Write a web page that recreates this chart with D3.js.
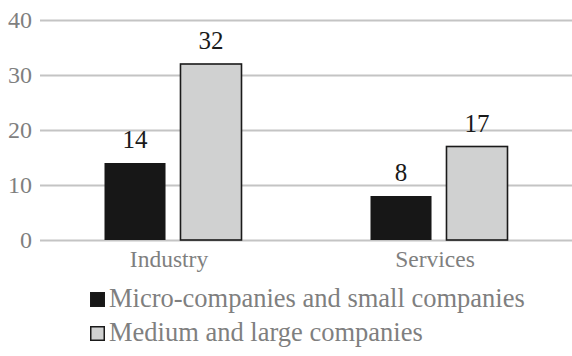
<!DOCTYPE html>
<html><head><meta charset="utf-8">
<script src="https://cdn.jsdelivr.net/npm/d3@7"></script>
<style>html,body{margin:0;padding:0;background:#fff;}svg{display:block;}</style>
</head><body>
<script>
const categories = ["Industry", "Services"];
const seriesNames = ["Micro-companies and small companies", "Medium and large companies"];
const microSmall = [14, 8];
const mediumLarge = [32, 17];
const yTickValues = [0, 10, 20, 30, 40];

const W = 572, H = 356;
const font = "'Liberation Serif','Times New Roman',serif";
const colors = ["#171717", "#d0d1d1"];
const seriesValues = [microSmall, mediumLarge];

const svg = d3.select("body").append("svg").attr("width", W).attr("height", H);

const y = d3.scaleLinear().domain([0, 40]).range([240, 20]);
const x0 = d3.scaleBand().domain(categories).range([40, 572]).padding(0);
const x1 = d3.scaleBand().domain(seriesNames).range([64.5, 201.5]).paddingInner(0.197).paddingOuter(0);

// gridlines
const yAxis = d3.axisLeft(y).tickValues(yTickValues).tickSize(-(572 - 40)).tickFormat(d3.format("d"));
const gAxis = svg.append("g").attr("transform", "translate(40,0)").call(yAxis);
gAxis.select(".domain").remove();
gAxis.selectAll(".tick line").attr("stroke", "#c4c4c4").attr("stroke-width", 1.8);
gAxis.selectAll(".tick text").attr("x", -8).attr("font-family", font).attr("font-size", 24).attr("fill", "#7f7f7f");

// bars
const groups = svg.selectAll("g.cat").data(categories).enter().append("g")
  .attr("class", "cat").attr("transform", d => `translate(${x0(d)},0)`);

seriesNames.forEach((s, si) => {
  groups.append("rect")
    .attr("x", x1(s))
    .attr("y", (d, i) => y(seriesValues[si][i]))
    .attr("width", x1.bandwidth())
    .attr("height", (d, i) => y(0) - y(seriesValues[si][i]))
    .attr("fill", colors[si])
    .attr("stroke", si === 1 ? "#1a1a1a" : "none")
    .attr("stroke-width", 1.6);
  groups.append("text")
    .attr("x", x1(s) + x1.bandwidth() / 2)
    .attr("y", (d, i) => y(seriesValues[si][i]) - 15)
    .attr("text-anchor", "middle")
    .attr("font-family", font).attr("font-size", 25).attr("fill", "#1a1a1a")
    .text((d, i) => seriesValues[si][i]);
});

// category labels
svg.selectAll("text.cat").data(categories).enter().append("text")
  .attr("class", "cat")
  .attr("x", d => x0(d) + x0.bandwidth() / 2 - 4)
  .attr("y", 267)
  .attr("text-anchor", "middle")
  .attr("font-family", font).attr("font-size", 23.5).attr("fill", "#7f7f7f")
  .text(d => d);

// legend
const leg = svg.selectAll("g.leg").data(seriesNames).enter().append("g")
  .attr("class", "leg").attr("transform", (d, i) => `translate(90,${292 + i * 34})`);
leg.append("rect").attr("x", 0.75).attr("y", 0.75).attr("width", 13.5).attr("height", 13.5)
  .attr("fill", (d, i) => colors[i]).attr("stroke", "#1a1a1a").attr("stroke-width", 1.5);
leg.append("text").attr("x", 19).attr("y", 15)
  .attr("font-family", font).attr("font-size", 26.5).attr("fill", "#7f7f7f")
  .text(d => d);
</script>
</body></html>
